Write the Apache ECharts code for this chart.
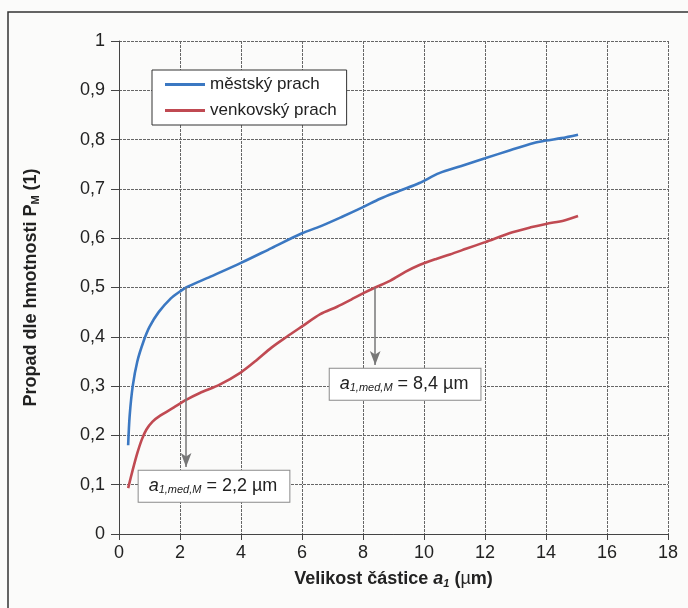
<!DOCTYPE html>
<html><head><meta charset="utf-8">
<script src="https://cdn.jsdelivr.net/npm/echarts@6/dist/echarts.min.js"></script>
<style>html,body{margin:0;padding:0;background:#fbfbfa}#c{width:688px;height:608px}</style>
</head><body><div id="c"></div>
<script>
const FONT = '"Liberation Sans Narrow","Liberation Sans",Arial,sans-serif';
const xTicks = [0,2,4,6,8,10,12,14,16,18];
const yTicks = [0,0.1,0.2,0.3,0.4,0.5,0.6,0.7,0.8,0.9,1];
const seriesNames = ['městský prach','venkovský prach'];
const urban = [[0.3,0.18],[0.35,0.24],[0.45,0.3],[0.6,0.35],[0.8,0.39],[1.0,0.42],[1.3,0.45],[1.7,0.478],[2.0,0.492],[2.2,0.5],[3.0,0.522],[4,0.55],[5,0.58],[6,0.61],[6.6,0.624],[7.3,0.643],[8,0.663],[8.56,0.68],[9.2,0.696],[9.85,0.712],[10.5,0.732],[11.2,0.746],[12,0.762],[12.8,0.778],[13.6,0.793],[14,0.798],[14.5,0.803],[15.05,0.81]];
const rural = [[0.3,0.093],[0.45,0.13],[0.6,0.164],[0.75,0.192],[0.9,0.212],[1.1,0.228],[1.35,0.24],[1.8,0.257],[2.2,0.272],[2.65,0.286],[3.3,0.303],[4,0.328],[4.5,0.352],[5,0.378],[5.5,0.4],[6,0.421],[6.6,0.446],[7.15,0.461],[7.6,0.475],[8.03,0.489],[8.4,0.5],[8.9,0.514],[9.4,0.532],[9.87,0.546],[10.4,0.558],[10.85,0.567],[11.4,0.579],[12,0.592],[12.9,0.612],[13.5,0.622],[14,0.629],[14.6,0.636],[15.05,0.645]];
const medians = [2.2, 8.4];
const medianLabels = ['2,2 µm','8,4 µm'];
const arrowEnds = [0.136, 0.343];
const boxAnchors = [[3.115,0.097],[9.38,0.304]];

const chart = echarts.init(document.getElementById('c'));
function boxLabel(val){
  return {
    show:true, position:'inside',
    formatter:'{a|a}{s|1,med,M}{t| = ' + val + '}',
    backgroundColor:'#fff', borderColor:'#8a8a8a', borderWidth:1,
    padding:[6,12,6,10],
    rich:{
      a:{fontFamily:FONT,fontStyle:'italic',fontSize:18,color:'#222'},
      s:{fontFamily:FONT,fontStyle:'italic',fontSize:11,color:'#222',verticalAlign:'bottom',padding:[8,0,0,0]},
      t:{fontFamily:FONT,fontSize:18,color:'#222'}
    }
  };
}
const arrowStyle = {color:'#777',width:1.5,type:'solid'};
chart.setOption({
  backgroundColor:'#fbfbfa',
  animation:false,
  grid:{left:119,right:20,top:41,bottom:74},
  legend:{
    orient:'vertical', left:152, top:70, padding:[6,10,6,13],
    backgroundColor:'#fff', borderColor:'#333', borderWidth:1,
    itemWidth:40, itemHeight:3, itemGap:9, icon:'rect',
    textStyle:{fontFamily:FONT,fontSize:17,color:'#222'},
    data:seriesNames
  },
  xAxis:{
    type:'value', min:0, max:18, interval:2,
    axisLine:{show:true,lineStyle:{color:'#444'}},
    axisTick:{show:true,length:6,lineStyle:{color:'#444'}},
    axisLabel:{fontFamily:FONT,fontSize:18,color:'#222',margin:10},
    splitLine:{show:true,lineStyle:{color:'#666',width:1,type:[3,1]}},
    name:'{b|Velikost částice }{i|a}{s|1}{b| (}{n|µ}{b|m)}',
    nameLocation:'middle', nameGap:36,
    nameTextStyle:{rich:{
      b:{fontFamily:FONT,fontWeight:'bold',fontSize:18,color:'#222'},
      i:{fontFamily:FONT,fontWeight:'bold',fontStyle:'italic',fontSize:18,color:'#222'},
      s:{fontFamily:FONT,fontWeight:'bold',fontStyle:'italic',fontSize:11,color:'#222',verticalAlign:'bottom',padding:[8,0,0,0]},
      n:{fontFamily:FONT,fontSize:18,color:'#222'}
    }}
  },
  yAxis:{
    type:'value', min:0, max:1, interval:0.1,
    axisLine:{show:true,lineStyle:{color:'#444'}},
    axisTick:{show:true,length:8,lineStyle:{color:'#444'}},
    axisLabel:{fontFamily:FONT,fontSize:18,color:'#222',margin:14,
      formatter:v=>String(Math.round(v*10)/10).replace('.',',')},
    splitLine:{show:true,lineStyle:{color:'#666',width:1,type:[3,1]}},
    name:'{b|Propad dle hmotnosti P}{s|M}{b| (1)}',
    nameLocation:'middle', nameGap:78, nameRotate:90,
    nameTextStyle:{rich:{
      b:{fontFamily:FONT,fontWeight:'bold',fontSize:18,color:'#222'},
      s:{fontFamily:FONT,fontWeight:'bold',fontSize:11,color:'#222',verticalAlign:'bottom',padding:[8,0,0,0]}
    }}
  },
  series:[
    {name:seriesNames[0], type:'line', data:urban, smooth:0.3, showSymbol:false,
      lineStyle:{color:'#3b78c2',width:2.6}, itemStyle:{color:'#3b78c2'},
      markLine:{silent:true, symbol:['none','arrow'], symbolSize:[8,14], label:{show:false},
        lineStyle:arrowStyle,
        data:[[{coord:[medians[0],0.5]},{coord:[medians[0],arrowEnds[0]]}]]},
      markPoint:{silent:true, symbol:'rect', symbolSize:1, itemStyle:{color:'rgba(0,0,0,0)'},
        data:[{coord:boxAnchors[0], label:boxLabel(medianLabels[0])}]}
    },
    {name:seriesNames[1], type:'line', data:rural, smooth:0.3, showSymbol:false,
      lineStyle:{color:'#c04a52',width:2.6}, itemStyle:{color:'#c04a52'},
      markLine:{silent:true, symbol:['none','arrow'], symbolSize:[8,14], label:{show:false},
        lineStyle:arrowStyle,
        data:[[{coord:[medians[1],0.5]},{coord:[medians[1],arrowEnds[1]]}]]},
      markPoint:{silent:true, symbol:'rect', symbolSize:1, itemStyle:{color:'rgba(0,0,0,0)'},
        data:[{coord:boxAnchors[1], label:boxLabel(medianLabels[1])}]}
    }
  ],
  graphic:[{type:'rect', shape:{x:8,y:12,width:700,height:620}, style:{fill:'none',stroke:'#333',lineWidth:1.5}, z:-1}]
});
</script></body></html>
